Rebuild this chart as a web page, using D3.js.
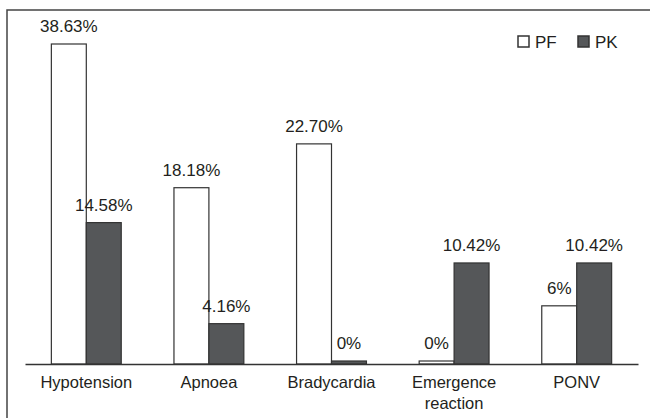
<!DOCTYPE html>
<html>
<head>
<meta charset="utf-8">
<script src="https://cdn.jsdelivr.net/npm/d3@7"></script>
<style>
  body { margin: 0; background: #fff; }
  text { font-family: "Liberation Sans", Arial, sans-serif; fill: #231f20; }
</style>
</head>
<body>
<div class="canvas"></div>
<script>
const categories = ["Hypotension", "Apnoea", "Bradycardia", "Emergence\nreaction", "PONV"];
const series = ["PF", "PK"];
const pfValues = [38.63, 18.18, 22.7, 0, 6];
const pkValues = [14.58, 4.16, 0, 10.42, 10.42];
const pfLabels = ["38.63%", "18.18%", "22.70%", "0%", "6%"];
const pkLabels = ["14.58%", "4.16%", "0%", "10.42%", "10.42%"];

const dimensions = { width: 650, height: 418 };
const plot = { left: 25, right: 638, base: 364, top: 44 };

const colors = { PF: "#ffffff", PK: "#555759" };

const svg = d3
  .select(".canvas")
  .append("svg")
  .attr("width", dimensions.width)
  .attr("height", dimensions.height);

// outer frame (right and bottom edges fall outside the picture)
svg
  .append("path")
  .attr("d", `M7,${dimensions.height} V10 H${dimensions.width}`)
  .attr("fill", "none")
  .attr("stroke", "#444")
  .attr("stroke-width", 1.5);

const x0 = d3
  .scaleBand()
  .domain(categories)
  .range([plot.left, plot.right])
  .paddingInner(0.43)
  .paddingOuter(0.215);

const x1 = d3.scaleBand().domain(series).range([0, x0.bandwidth()]);

// the tallest bar is drawn cut short in the original, so the scale is clamped
const y = d3
  .scaleLinear()
  .domain([0, 33])
  .range([plot.base, plot.top])
  .clamp(true);

const rows = categories.map((c, i) => ({
  category: c,
  bars: [
    { key: "PF", value: pfValues[i], label: pfLabels[i] },
    { key: "PK", value: pkValues[i], label: pkLabels[i] },
  ],
}));

const groups = svg
  .selectAll("g.group")
  .data(rows)
  .enter()
  .append("g")
  .attr("class", "group")
  .attr("transform", (d) => `translate(${x0(d.category)},0)`);

const barTop = (d) => Math.min(y(d.value), plot.base - 3);

groups
  .selectAll("rect")
  .data((d) => d.bars)
  .enter()
  .append("rect")
  .attr("x", (d) => x1(d.key))
  .attr("y", barTop)
  .attr("width", x1.bandwidth())
  .attr("height", (d) => plot.base - barTop(d))
  .attr("fill", (d) => colors[d.key])
  .attr("stroke", "#333")
  .attr("stroke-width", 1.2);

groups
  .selectAll("text.value")
  .data((d) => d.bars)
  .enter()
  .append("text")
  .attr("class", "value")
  .attr("x", (d) => x1(d.key) + x1.bandwidth() / 2)
  .attr("y", (d) => barTop(d) - 12)
  .attr("text-anchor", "middle")
  .attr("font-size", 17)
  .text((d) => d.label);

// baseline
const xAxis = d3.axisBottom(x0).tickSize(0).tickSizeOuter(0).tickFormat("");
svg
  .append("g")
  .attr("transform", `translate(0,${plot.base})`)
  .call(xAxis)
  .call((g) => g.select(".domain").attr("stroke", "#333").attr("stroke-width", 1.3));

// category labels
svg
  .selectAll("text.cat")
  .data(categories)
  .enter()
  .append("text")
  .attr("class", "cat")
  .attr("x", (d) => x0(d) + x0.bandwidth() / 2)
  .attr("y", 387.5)
  .attr("text-anchor", "middle")
  .attr("font-size", 16.5)
  .each(function (d) {
    d.split("\n").forEach((line, i) => {
      d3.select(this)
        .append("tspan")
        .attr("x", x0(d) + x0.bandwidth() / 2)
        .attr("dy", i === 0 ? 0 : 21)
        .text(line);
    });
  });

// legend
const legend = svg
  .selectAll("g.legend")
  .data(series)
  .enter()
  .append("g")
  .attr("class", "legend")
  .attr("transform", (d, i) => `translate(${518 + i * 60},36)`);

legend
  .append("rect")
  .attr("width", 11)
  .attr("height", 11)
  .attr("fill", (d) => colors[d])
  .attr("stroke", "#333")
  .attr("stroke-width", 1.5);

legend
  .append("text")
  .attr("x", 17)
  .attr("y", 11.5)
  .attr("font-size", 17)
  .text((d) => d);
</script>
</body>
</html>
